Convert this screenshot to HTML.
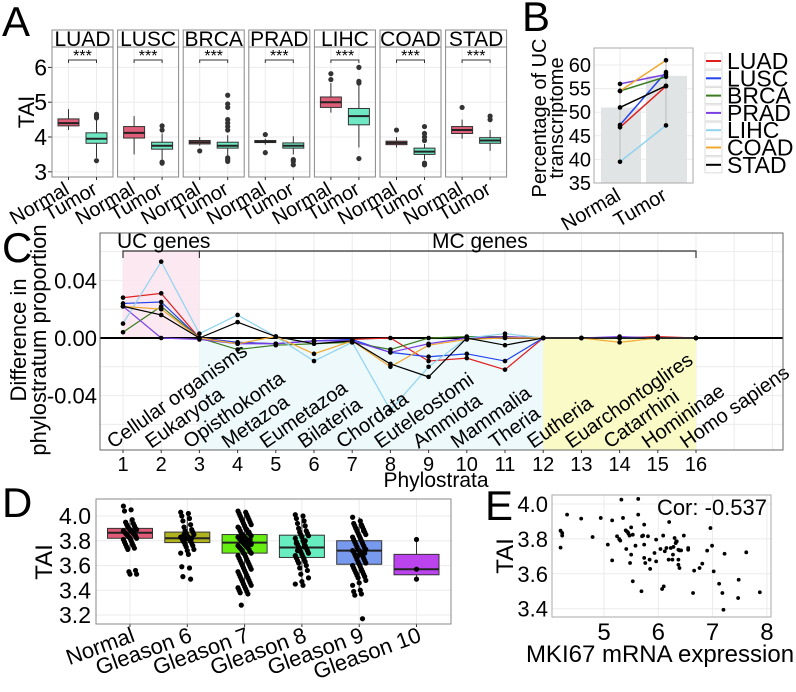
<!DOCTYPE html>
<html><head><meta charset="utf-8"><style>
body{margin:0;background:#fff}
svg{display:block;font-family:"Liberation Sans",Arial,sans-serif}
</style></head><body>
<svg id="fig" width="796" height="692" viewBox="0 0 796 692" xmlns="http://www.w3.org/2000/svg"></svg>
<script>
// ---------- Panel A data ----------
const aCancers = ["LUAD","LUSC","BRCA","PRAD","LIHC","COAD","STAD"];
const aNormalStats = [[4.2,4.32,4.4,4.52,4.8],[3.5,3.97,4.12,4.3,4.6],[3.75,3.8,3.85,3.9,4.0],[3.78,3.84,3.86,3.9,3.95],[4.7,4.85,5.0,5.15,5.55],[3.7,3.78,3.83,3.88,4.0],[3.95,4.1,4.2,4.3,4.5]];
const aTumorStats = [[3.4,3.82,3.95,4.12,4.5],[3.35,3.65,3.75,3.85,4.1],[3.45,3.68,3.75,3.85,4.05],[3.5,3.68,3.75,3.83,4.02],[3.7,4.35,4.6,4.82,5.5],[3.35,3.5,3.58,3.68,3.8],[3.6,3.82,3.9,3.98,4.2]];
const aNormalOut = [[],[],[3.6],[4.07,3.55],[5.65,5.82],[4.2],[4.85]];
const aTumorOut = [[4.55,4.6,4.65,3.32],[4.2,4.32,3.28,3.25],[4.2,4.3,4.4,4.5,4.85,4.95,5.2,3.3,3.35,3.4],[3.35,3.3,3.2],[5.55,5.6,6.0,3.38],[3.9,4.0,4.1,4.3,3.2,3.25],[4.5,4.6]];
const aTicks = [3,4,5,6];

// ---------- Panel B data ----------
const bSeries = ["LUAD","LUSC","BRCA","PRAD","LIHC","COAD","STAD"];
const bNormal = [46.8,47.3,54.5,56,39.5,54.5,51];
const bTumor = [55.5,58.5,57.5,58,47.2,61,55.6];
const bBars = [51,57.7];
const bTicks = [35,40,45,50,55,60];

// ---------- Panel C data ----------
const cStrata = ["Cellular organisms","Eukaryota","Opisthokonta","Metazoa","Eumetazoa","Bilateria","Chordata","Euteleostomi","Ammiota","Mammalia","Theria","Eutheria","Euarchontoglires","Catarrhini","Homininae","Homo sapiens"];
const cLUAD = [0.028,0.031,0,-0.003,-0.004,-0.002,-0.001,0,-0.016,-0.014,-0.022,0,0,0,0.001,0];
const cLUSC = [0.024,0.025,0,-0.003,-0.004,-0.002,-0.001,-0.01,-0.013,-0.011,-0.016,0,0,0,0,0];
const cBRCA = [0.004,0.022,0,-0.008,-0.005,-0.004,-0.003,-0.008,0,0.001,0.001,0,0,0,0,0];
const cPRAD = [0.022,0,-0.001,-0.004,-0.004,-0.002,-0.002,-0.01,-0.004,0,0.001,0,0,0.001,0,0];
const cLIHC = [0.01,0.053,0.003,0.016,0.001,-0.016,-0.003,-0.05,-0.02,0,0.003,0,0,0,0,0];
const cCOAD = [0.022,0.02,0,-0.004,0.001,-0.011,-0.002,-0.02,-0.005,-0.001,0,0,0,-0.003,0,0];
const cSTAD = [0.022,0.016,0,0.011,0.001,-0.004,-0.002,-0.018,-0.027,0,-0.005,0,0,0,0,0];
const cTickLabels = ["0.04","0.00","-0.04"];
const cTicks = [0.04,0,-0.04];

// ---------- Panel D data ----------
const dGroups = ["Normal","Gleason 6","Gleason 7","Gleason 8","Gleason 9","Gleason 10"];
const dStats = [[3.73,3.82,3.865,3.9,3.97],[3.69,3.785,3.82,3.87,4.03],[3.45,3.70,3.785,3.85,4.04],[3.47,3.665,3.745,3.845,4.01],[3.40,3.61,3.72,3.80,3.99],[3.49,3.525,3.57,3.69,3.81]];
const dPts0 = [4.08,4.05,4.04,3.97,3.95,3.94,3.93,3.92,3.91,3.90,3.90,3.89,3.89,3.88,3.88,3.87,3.87,3.86,3.86,3.85,3.85,3.84,3.84,3.83,3.82,3.82,3.81,3.80,3.79,3.78,3.77,3.76,3.75,3.74,3.73,3.56,3.55,3.53,3.53,3.88];
const dPts1 = [4.03,4.02,4.00,3.98,3.96,3.93,3.91,3.89,3.88,3.87,3.86,3.85,3.84,3.83,3.83,3.82,3.81,3.80,3.80,3.79,3.78,3.77,3.76,3.75,3.73,3.72,3.70,3.69,3.59,3.58,3.51,3.49,3.85,3.82,3.81];
const dPts2 = [4.04,4.03,4.02,4.01,4.00,3.99,3.98,3.97,3.96,3.95,3.94,3.93,3.92,3.91,3.90,3.90,3.89,3.88,3.87,3.86,3.86,3.85,3.85,3.84,3.84,3.83,3.83,3.82,3.82,3.81,3.81,3.80,3.80,3.79,3.79,3.78,3.78,3.77,3.77,3.76,3.76,3.75,3.75,3.74,3.74,3.73,3.73,3.72,3.71,3.70,3.70,3.69,3.68,3.67,3.66,3.65,3.64,3.63,3.62,3.61,3.60,3.59,3.58,3.57,3.56,3.55,3.54,3.53,3.52,3.51,3.50,3.49,3.48,3.47,3.46,3.45,3.44,3.43,3.42,3.41,3.40,3.39,3.38,3.37,3.28,3.87,3.79,3.81,3.83,3.78];
const dPts3 = [4.01,4.00,3.98,3.96,3.94,3.92,3.90,3.88,3.87,3.86,3.85,3.84,3.83,3.82,3.80,3.79,3.78,3.77,3.76,3.75,3.74,3.73,3.72,3.71,3.70,3.69,3.68,3.67,3.66,3.65,3.64,3.63,3.62,3.60,3.58,3.56,3.53,3.50,3.47,3.45,3.44,3.78,3.75,3.72,3.80];
const dPts4 = [3.99,3.96,3.94,3.93,3.92,3.91,3.90,3.89,3.88,3.87,3.86,3.85,3.84,3.83,3.82,3.81,3.80,3.79,3.78,3.77,3.76,3.75,3.74,3.73,3.73,3.72,3.72,3.71,3.71,3.70,3.69,3.68,3.67,3.66,3.65,3.64,3.63,3.62,3.61,3.60,3.59,3.58,3.57,3.56,3.55,3.54,3.53,3.52,3.51,3.50,3.48,3.46,3.44,3.40,3.39,3.37,3.36,3.17,3.90,3.88,3.75,3.70,3.68];
const dPts5 = [3.81,3.57,3.49];
const dTicks = [3.2,3.4,3.6,3.8,4.0];
const dTickLabels = ["3.2","3.4","3.6","3.8","4.0"];

// ---------- Panel E data ----------
const eX = [4.20,4.23,4.23,4.20,4.32,4.58,4.79,4.94,5.07,5.15,5.15,5.24,5.28,5.30,5.32,5.35,5.40,5.41,5.42,5.44,5.45,5.47,5.48,5.50,5.50,5.53,5.53,5.58,5.63,5.63,5.69,5.70,5.72,5.74,5.74,5.74,5.76,5.81,5.84,5.85,5.96,5.93,5.96,6.04,6.07,6.10,6.09,6.12,6.15,6.19,6.20,6.23,6.26,6.27,6.28,6.30,6.32,6.33,6.34,6.37,6.37,6.37,6.39,6.39,6.42,6.47,6.55,6.55,6.64,6.66,6.76,6.81,6.90,6.96,6.99,7.02,7.12,7.18,7.20,7.22,7.47,7.48,7.62,7.87];
const eY = [3.847,3.834,3.819,3.750,3.939,3.916,3.811,3.920,3.767,3.906,3.677,3.815,3.799,3.790,4.025,3.920,3.849,3.742,3.843,3.838,3.830,3.819,3.662,3.866,3.710,3.824,3.557,3.761,4.029,3.939,3.500,3.815,3.819,3.767,3.882,3.691,3.662,3.815,3.681,3.628,3.796,3.719,3.671,3.742,3.513,3.528,3.819,3.729,3.748,3.681,3.897,3.748,3.681,3.710,3.754,3.805,3.776,3.786,3.786,3.738,3.681,3.652,3.734,3.633,3.734,3.819,3.748,3.738,3.490,3.618,3.633,3.658,3.733,3.862,3.761,3.614,3.543,3.490,3.394,3.715,3.461,3.566,3.723,3.494];
const eXTicks = [5,6,7,8];
const eYTicks = [3.4,3.6,3.8,4.0];
const eYTickLabels = ["3.4","3.6","3.8","4.0"];

// ---------- helpers ----------
const NS = "http://www.w3.org/2000/svg";
const svg = document.getElementById("fig");
function mk(tag, attrs, parent, name, inter){
  const e = document.createElementNS(NS, tag);
  for (const k in attrs) e.setAttribute(k, attrs[k]);
  
  
  (parent || svg).appendChild(e);
  return e;
}
function txt(s, x, y, size, attrs, name, parent){
  const a = Object.assign({x:x, y:y, "font-size":size, fill:"#000"}, attrs || {});
  const t = mk("text", a, parent, name, false);
  t.textContent = s;
  return t;
}
function g(name){ return mk("g", {}, svg, name, false); }
const GRID = "#ebebeb";

function boxplot(parent, cx, w, st, yf, fill, outs, name){
  const gg = mk("g", {}, parent, name, false);
  mk("line", {x1:cx, x2:cx, y1:yf(st[0]), y2:yf(st[1]), stroke:"#333", "stroke-width":1}, gg, "whisker-low", false);
  mk("line", {x1:cx, x2:cx, y1:yf(st[3]), y2:yf(st[4]), stroke:"#333", "stroke-width":1}, gg, "whisker-high", false);
  mk("rect", {x:cx-w/2, y:yf(st[3]), width:w, height:yf(st[1])-yf(st[3]), fill:fill, stroke:"#333", "stroke-width":1}, gg, "box", false);
  mk("line", {x1:cx-w/2, x2:cx+w/2, y1:yf(st[2]), y2:yf(st[2]), stroke:"#222", "stroke-width":2}, gg, "median-line", false);
  (outs||[]).forEach(v=>{
    mk("circle", {cx:cx, cy:yf(v), r:2.6, fill:"#333"}, gg, "outlier-point", false);
  });
  return gg;
}

// ---------- Panel A ----------
(function(){
  const G = g("panel-a");
  txt("A", 2, 36, 42, {}, "panel-a-label", G);
  const yA = v => 137 - (v-4)*34.8;
  const top = 47, bot = 177;
  aTicks.forEach(t=>{
    txt(String(t), 47, yA(t)+8, 23, {"text-anchor":"end"}, "a-y-tick-label", G);
    mk("line",{x1:48,x2:52,y1:yA(t),y2:yA(t),stroke:"#333"},G,"a-y-tick",false);
  });
  txt("TAI", 34, 112, 22, {"text-anchor":"middle", transform:"rotate(-90 34 112)"}, "a-y-axis-title", G);
  aCancers.forEach((c,i)=>{
    const x0 = 52 + i*65.6, w = 61;
    const fg = mk("g",{},G,"facet-"+c.toLowerCase(),false);
    mk("rect",{x:x0,y:30,width:w,height:17,fill:"#fff",stroke:"#888"},fg,"facet-strip",false);
    txt(c, x0+w/2, 46, 21, {"text-anchor":"middle"}, "facet-strip-label", fg);
    mk("rect",{x:x0,y:top,width:w,height:bot-top,fill:"#fff",stroke:"none"},fg,"facet-panel",false);
    aTicks.forEach(t=>mk("line",{x1:x0,x2:x0+w,y1:yA(t),y2:yA(t),stroke:GRID},fg,"grid-line",false));
    const xn = x0+16.5, xt = x0+44.5;
    [xn,xt].forEach(x=>mk("line",{x1:x,x2:x,y1:top,y2:bot,stroke:GRID},fg,"grid-line",false));
    boxplot(fg, xn, 21, aNormalStats[i], yA, "#de5d78", aNormalOut[i], "box-normal");
    boxplot(fg, xt, 21, aTumorStats[i], yA, "#6ee8c2", aTumorOut[i], "box-tumor");
    mk("path",{d:`M${xn},63 V60 H${xt} V63`,fill:"none",stroke:"#333","stroke-width":1},fg,"significance-bracket",false);
    txt("***", (xn+xt)/2, 61, 16, {"text-anchor":"middle"}, "significance-stars", fg);
    mk("rect",{x:x0,y:top,width:w,height:bot-top,fill:"none",stroke:"#888"},fg,"facet-border",false);
    [xn,xt].forEach(x=>mk("line",{x1:x,x2:x,y1:bot,y2:bot+3,stroke:"#333"},fg,"x-tick",false));
    txt("Normal", xn+2, 193, 20, {"text-anchor":"end", transform:`rotate(-30 ${xn+2} 193)`}, "x-label-normal", fg);
    txt("Tumor", xt+2, 193, 20, {"text-anchor":"end", transform:`rotate(-30 ${xt+2} 193)`}, "x-label-tumor", fg);
  });
})();

// ---------- Panel B ----------
(function(){
  const G = g("panel-b");
  txt("B", 522, 31, 42, {}, "panel-b-label", G);
  const yB = v => 65 + (60-v)*4.72;
  const L=594, R=693, T=48, B=183;
  const xN = 620, xT = 666;
  mk("rect",{x:L,y:T,width:R-L,height:B-T,fill:"#fff"},G,"b-plot-bg",false);
  bTicks.forEach(t=>{
    mk("line",{x1:L,x2:R,y1:yB(t),y2:yB(t),stroke:GRID},G,"grid-line",false);
    txt(String(t), 591, yB(t)+7, 20, {"text-anchor":"end"}, "b-y-tick-label", G);
  });
  [xN,xT].forEach(x=>mk("line",{x1:x,x2:x,y1:T,y2:B,stroke:GRID},G,"grid-line",false));
  mk("rect",{x:xN-19,y:yB(bBars[0]),width:40,height:B-yB(bBars[0]),fill:"#e1e4e4"},G,"bar-normal",false);
  mk("rect",{x:xT-20,y:yB(bBars[1]),width:41,height:B-yB(bBars[1]),fill:"#e1e4e4"},G,"bar-tumor",false);
  mk("line",{x1:xN,x2:xN,y1:yB(Math.max(...bNormal)),y2:yB(Math.min(...bNormal)),stroke:"#bbb"},G,"range-normal",false);
  mk("line",{x1:xT,x2:xT,y1:yB(Math.max(...bTumor)),y2:yB(Math.min(...bTumor)),stroke:"#bbb"},G,"range-tumor",false);
  const cols = ["#e02020","#2244ee","#3a7d1e","#7b3fe4","#8fd3ef","#f0a830","#000"];
  bSeries.forEach((s,i)=>{
    mk("line",{x1:xN,x2:xT,y1:yB(bNormal[i]),y2:yB(bTumor[i]),stroke:cols[i],"stroke-width":1.5},G,"line-"+s.toLowerCase(),false);
    mk("circle",{cx:xN,cy:yB(bNormal[i]),r:2.3,fill:"#000"},G,"point-normal",false);
    mk("circle",{cx:xT,cy:yB(bTumor[i]),r:2.3,fill:"#000"},G,"point-tumor",false);
    const ly = 61 + i*17.3;
    mk("rect",{x:705,y:ly-8,width:17,height:16,fill:"#fff",stroke:"#ddd"},G,"legend-key",false);
    mk("line",{x1:706,x2:721,y1:ly,y2:ly,stroke:cols[i],"stroke-width":2},G,"legend-swatch",false);
    txt(s, 727, ly+8, 23, {}, "legend-entry", G);
  });
  mk("rect",{x:L,y:T,width:R-L,height:B-T,fill:"none",stroke:"#aaa"},G,"b-plot-border",false);
  txt("Percentage of UC", 546, 118, 20, {"text-anchor":"middle", transform:"rotate(-90 546 118)"}, "b-y-axis-title-1", G);
  txt("transcriptome", 563, 118, 20, {"text-anchor":"middle", transform:"rotate(-90 563 118)"}, "b-y-axis-title-2", G);
  txt("Normal", xN+2, 199, 20, {"text-anchor":"end", transform:`rotate(-30 ${xN+2} 199)`}, "b-x-label-normal", G);
  txt("Tumor", xT+2, 199, 20, {"text-anchor":"end", transform:`rotate(-30 ${xT+2} 199)`}, "b-x-label-tumor", G);
})();

// ---------- Panel C ----------
(function(){
  const G = g("panel-c");
  txt("C", 2, 262, 42, {}, "panel-c-label", G);
  const xC = p => 123 + (p-1)*38.2;
  const yC = v => 338 - v*1440;
  const L=100, R=783, T=233, B=450;
  mk("rect",{x:L,y:T,width:R-L,height:B-T,fill:"#fff"},G,"c-plot-bg",false);
  for (let v=-0.08; v<=0.081; v+=0.02){ const y=yC(v); if(y>T&&y<B) mk("line",{x1:L,x2:R,y1:y,y2:y,stroke:GRID},G,"grid-line",false); }
  for (let p=1;p<=18;p++){ mk("line",{x1:xC(p),x2:xC(p),y1:T,y2:B,stroke:GRID},G,"grid-line",false); }
  mk("rect",{x:xC(1),y:251,width:xC(3)-xC(1),height:yC(0)-251,fill:"#fbe6f0",opacity:0.9},G,"uc-region",false);
  mk("rect",{x:xC(3),y:yC(0),width:xC(12)-xC(3),height:B-yC(0),fill:"#eef9fb"},G,"mc-region-early",false);
  mk("rect",{x:xC(12),y:yC(0),width:xC(16)-xC(12),height:B-yC(0),fill:"#fafac6"},G,"mc-region-late",false);
  mk("line",{x1:L,x2:R,y1:yC(0),y2:yC(0),stroke:"#000","stroke-width":2},G,"zero-line",false);
  mk("path",{d:`M${xC(1)},258 V251 H${xC(16)} V258 M${xC(3)},251 V258`,fill:"none",stroke:"#333","stroke-width":1.2},G,"gene-bracket",false);
  txt("UC genes", 117, 248, 21, {}, "uc-genes-label", G);
  txt("MC genes", 432, 248, 21, {}, "mc-genes-label", G);
  const series = [cLUAD,cLUSC,cBRCA,cPRAD,cLIHC,cCOAD,cSTAD];
  const names = ["luad","lusc","brca","prad","lihc","coad","stad"];
  const cols = ["#e02020","#2244ee","#3a7d1e","#7b3fe4","#8fd3ef","#f0a830","#000"];
  series.forEach((s,i)=>{
    const d = s.map((v,j)=>(j?"L":"M")+xC(j+1)+","+yC(v)).join(" ");
    mk("path",{d:d,fill:"none",stroke:cols[i],"stroke-width":1.2},G,"c-line-"+names[i],false);
  });
  series.forEach(s=>s.forEach((v,j)=>mk("circle",{cx:xC(j+1),cy:yC(v),r:2.3,fill:"#000"},G,"c-point",false)));
  cStrata.forEach((n,j)=>{
    const x = xC(j+1)-10, y = 449;
    txt(n, x, y, 20, {transform:`rotate(-35 ${x} ${y})`}, "phylostratum-label", G);
  });
  mk("rect",{x:L,y:T,width:R-L,height:B-T,fill:"none",stroke:"#666"},G,"c-plot-border",false);
  cTicks.forEach((t,k)=>txt(cTickLabels[k], 97, yC(t)+8, 22, {"text-anchor":"end"}, "c-y-tick-label", G));
  for (let p=1;p<=16;p++){
    mk("line",{x1:xC(p),x2:xC(p),y1:B,y2:B+3,stroke:"#333"},G,"c-x-tick",false);
    txt(String(p), xC(p), 471, 20, {"text-anchor":"middle"}, "c-x-tick-label", G);
  }
  txt("Phylostrata", 436, 487, 21, {"text-anchor":"middle"}, "c-x-axis-title", G);
  txt("Difference in", 26, 340, 22, {"text-anchor":"middle", transform:"rotate(-90 26 340)"}, "c-y-axis-title-1", G);
  txt("phylostratum proportion", 46, 340, 22, {"text-anchor":"middle", transform:"rotate(-90 46 340)"}, "c-y-axis-title-2", G);
})();

// ---------- Panel D ----------
(function(){
  const G = g("panel-d");
  txt("D", 2, 517, 42, {}, "panel-d-label", G);
  const yD = v => 516 + (4-v)*123.75;
  const xD = i => 130 + i*57.3;
  const L=96, R=451, T=499, B=624;
  mk("rect",{x:L,y:T,width:R-L,height:B-T,fill:"#fff"},G,"d-plot-bg",false);
  dTicks.forEach((t,k)=>{
    mk("line",{x1:L,x2:R,y1:yD(t),y2:yD(t),stroke:GRID},G,"grid-line",false);
    txt(dTickLabels[k], 91, yD(t)+8, 23, {"text-anchor":"end"}, "d-y-tick-label", G);
  });
  const fills = ["#e05a78","#b0b21e","#66ee10","#66eec0","#7799ee","#bb44ee"];
  const pts = [dPts0,dPts1,dPts2,dPts3,dPts4,dPts5];
  dGroups.forEach((n,i)=>{
    mk("line",{x1:xD(i),x2:xD(i),y1:T,y2:B,stroke:GRID},G,"grid-line",false);
    boxplot(G, xD(i), 45, dStats[i], yD, fills[i], [], "d-box-"+i);
    pts[i].forEach((v,k)=>{
      const dx = ((k*7)%13 - 6) * (i===5 ? 0 : 1.1);
      mk("circle",{cx:xD(i)+dx,cy:yD(v),r:2.6,fill:"#000"},G,"d-point",false);
    });
    mk("line",{x1:xD(i),x2:xD(i),y1:B,y2:B+3,stroke:"#333"},G,"d-x-tick",false);
    txt(n, xD(i)+6, 641, 22, {"text-anchor":"end", transform:`rotate(-20 ${xD(i)+6} 641)`}, "d-x-label", G);
  });
  mk("rect",{x:L,y:T,width:R-L,height:B-T,fill:"none",stroke:"#888"},G,"d-plot-border",false);
  txt("TAI", 52, 562, 24, {"text-anchor":"middle", transform:"rotate(-90 52 562)"}, "d-y-axis-title", G);
})();

// ---------- Panel E ----------
(function(){
  const G = g("panel-e");
  txt("E", 485, 520, 42, {}, "panel-e-label", G);
  const xE = v => 604 + (v-5)*54.3;
  const yE = v => 504 + (4-v)*174.5;
  const L=552, R=771, T=495, B=617;
  mk("rect",{x:L,y:T,width:R-L,height:B-T,fill:"#fff"},G,"e-plot-bg",false);
  eYTicks.forEach((t,k)=>{
    mk("line",{x1:L,x2:R,y1:yE(t),y2:yE(t),stroke:GRID},G,"grid-line",false);
    txt(eYTickLabels[k], 548, yE(t)+8, 22, {"text-anchor":"end"}, "e-y-tick-label", G);
  });
  eXTicks.forEach(t=>{
    mk("line",{x1:xE(t),x2:xE(t),y1:T,y2:B,stroke:GRID},G,"grid-line",false);
    txt(String(t), xE(t), 640, 24, {"text-anchor":"middle"}, "e-x-tick-label", G);
  });
  eX.forEach((x,k)=>mk("circle",{cx:xE(x),cy:yE(eY[k]),r:1.9,fill:"#000"},G,"e-point",false));
  mk("rect",{x:L,y:T,width:R-L,height:B-T,fill:"none",stroke:"#aaa"},G,"e-plot-border",false);
  txt("Cor: -0.537", 767, 515, 22, {"text-anchor":"end"}, "correlation-label", G);
  txt("MKI67 mRNA expression", 660, 662, 24, {"text-anchor":"middle"}, "e-x-axis-title", G);
  txt("TAI", 513, 556, 24, {"text-anchor":"middle", transform:"rotate(-90 513 556)"}, "e-y-axis-title", G);
})();
</script>
</body></html>
